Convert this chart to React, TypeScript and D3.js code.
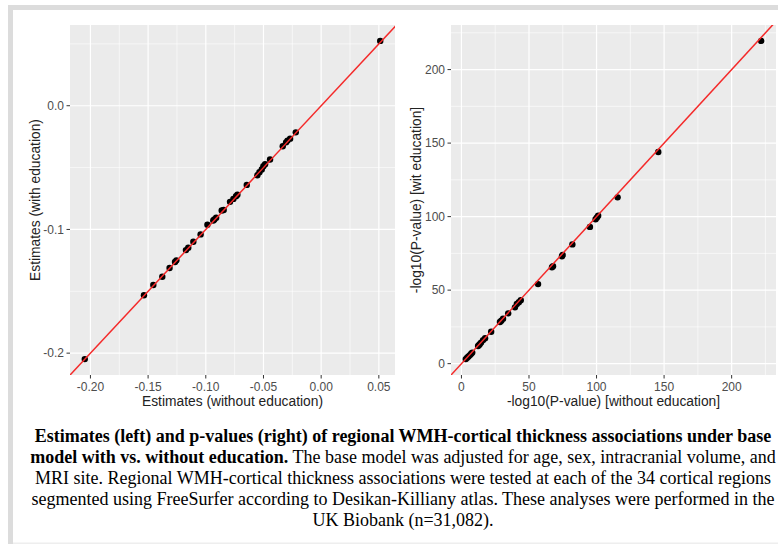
import React from "react";
import * as d3 from "d3";

// Left panel: regional estimates, [without education, with education]
const estimates: [number, number][] = [
  [-0.2049, -0.2048], [-0.1536, -0.1532], [-0.1455, -0.1449], [-0.1377, -0.1382],
  [-0.1314, -0.1312], [-0.1267, -0.1263], [-0.1255, -0.125], [-0.1172, -0.1167],
  [-0.1152, -0.1148], [-0.1108, -0.11], [-0.1045, -0.104], [-0.0986, -0.0962],
  [-0.0935, -0.0928], [-0.0926, -0.0919], [-0.091, -0.0905], [-0.0862, -0.0847],
  [-0.0845, -0.0843], [-0.079, -0.0777], [-0.0761, -0.0753], [-0.0738, -0.0731],
  [-0.0726, -0.072], [-0.0645, -0.064], [-0.0553, -0.0562], [-0.0535, -0.0538],
  [-0.0515, -0.0516], [-0.0501, -0.0489], [-0.0486, -0.0473], [-0.0443, -0.0435],
  [-0.0333, -0.0328], [-0.0304, -0.0296], [-0.0292, -0.0282], [-0.0269, -0.0266],
  [-0.022, -0.0215], [0.0512, 0.0524],
];

// Right panel: -log10(P), [without education, with education]
const logP: [number, number][] = [
  [3.2, 3.1], [4.2, 4.0], [5.2, 4.9], [6.3, 5.8], [7.2, 6.7], [8.0, 7.5],
  [12.3, 12.0], [13.0, 12.6], [13.5, 13.2], [14.5, 14.3], [16.0, 16.0], [17.5, 17.3],
  [22.0, 21.7], [28.5, 28.3], [29.5, 29.2], [30.8, 30.6], [34.6, 34.2], [39.6, 38.3],
  [41.0, 40.6], [42.5, 41.8], [43.9, 43.2], [56.7, 54.1], [67.0, 65.6], [67.8, 66.2],
  [74.4, 73.0], [74.9, 73.9], [82.1, 81.1], [95.1, 93.0], [99.3, 98.2], [100.3, 99.4],
  [101.2, 100.6], [115.6, 113.1], [145.7, 143.9], [221.9, 219.5],
];

const leftXTicks = [-0.2, -0.15, -0.1, -0.05, 0, 0.05];
const leftYTicks = [-0.2, -0.1, 0];
const rightXTicks = [0, 50, 100, 150, 200];
const rightYTicks = [0, 50, 100, 150, 200];

const captionLines = [
  { bold: "Estimates (left) and p-values (right) of regional WMH-cortical thickness associations under base", rest: "" },
  { bold: "model with vs. without education.", rest: " The base model was adjusted for age, sex, intracranial volume, and" },
  { bold: "", rest: "MRI site. Regional WMH-cortical thickness associations were tested at each of the 34 cortical regions" },
  { bold: "", rest: "segmented using FreeSurfer according to Desikan-Killiany atlas. These analyses were performed in the" },
  { bold: "", rest: "UK Biobank (n=31,082)." },
];

const FONT = "'Liberation Sans', Arial, sans-serif";

// ggplot-style 5% expansion of the data range
const expanded = (vals: number[]): [number, number] => {
  const [lo, hi] = d3.extent(vals) as [number, number];
  const pad = (hi - lo) * 0.05;
  return [lo - pad, hi + pad];
};

const midpoints = (ticks: number[], domain: [number, number]) => {
  const step = ticks[1] - ticks[0];
  const out: number[] = [];
  for (let v = ticks[0] - step / 2; v <= domain[1]; v += step) {
    if (v >= domain[0]) out.push(v);
  }
  return out;
};

type PanelProps = {
  id: string;
  data: [number, number][];
  left: number;
  right: number;
  xTicks: number[];
  yTicks: number[];
  xFmt: (d: number) => string;
  yFmt: (d: number) => string;
  xTitle: string;
  yTitle: string;
  yTitleX: number;
};

const Panel: React.FC<PanelProps> = ({ id, data, left, right, xTicks, yTicks, xFmt, yFmt, xTitle, yTitle, yTitleX }) => {
  const top = 25;
  const bottom = 375;
  const xDom = expanded(data.map((d) => d[0]));
  const yDom = expanded(data.map((d) => d[1]));
  const x = d3.scaleLinear().domain(xDom).range([left, right]);
  const y = d3.scaleLinear().domain(yDom).range([bottom, top]);
  const lo = Math.min(xDom[0], yDom[0]);
  const hi = Math.max(xDom[1], yDom[1]);
  const line = d3.line<number>().x((v) => x(v)).y((v) => y(v));

  return (
    <g>
      <defs>
        <clipPath id={id}>
          <rect x={left} y={top} width={right - left} height={bottom - top} />
        </clipPath>
      </defs>
      <rect x={left} y={top} width={right - left} height={bottom - top} fill="#ebebeb" />
      {midpoints(xTicks, xDom).map((v) => (
        <line key={"mx" + v} x1={x(v)} x2={x(v)} y1={top} y2={bottom} stroke="#fff" strokeWidth={0.6} />
      ))}
      {midpoints(yTicks, yDom).map((v) => (
        <line key={"my" + v} x1={left} x2={right} y1={y(v)} y2={y(v)} stroke="#fff" strokeWidth={0.6} />
      ))}
      {xTicks.map((v) => (
        <line key={"gx" + v} x1={x(v)} x2={x(v)} y1={top} y2={bottom} stroke="#fff" strokeWidth={1.2} />
      ))}
      {yTicks.map((v) => (
        <line key={"gy" + v} x1={left} x2={right} y1={y(v)} y2={y(v)} stroke="#fff" strokeWidth={1.2} />
      ))}
      <g clipPath={`url(#${id})`}>
        {data.map((d, i) => (
          <circle key={i} cx={x(d[0])} cy={y(d[1])} r={3.2} fill="#000" />
        ))}
        <path d={line([lo, hi]) || ""} stroke="#f42a2a" strokeWidth={1.5} fill="none" />
      </g>
      {xTicks.map((v) => (
        <g key={"tx" + v}>
          <line x1={x(v)} x2={x(v)} y1={bottom} y2={bottom + 3.5} stroke="#333" strokeWidth={1} />
          <text x={x(v)} y={bottom + 16} textAnchor="middle" fontFamily={FONT} fontSize={12} fill="#4d4d4d">
            {xFmt(v)}
          </text>
        </g>
      ))}
      {yTicks.map((v) => (
        <g key={"ty" + v}>
          <line x1={left - 3.5} x2={left} y1={y(v)} y2={y(v)} stroke="#333" strokeWidth={1} />
          <text x={left - 6} y={y(v) + 4.2} textAnchor="end" fontFamily={FONT} fontSize={12} fill="#4d4d4d">
            {yFmt(v)}
          </text>
        </g>
      ))}
      <text x={(left + right) / 2} y={406} textAnchor="middle" fontFamily={FONT} fontSize={13.8} fill="#222">
        {xTitle}
      </text>
      <text
        transform={`translate(${yTitleX},${(top + bottom) / 2}) rotate(-90)`}
        textAnchor="middle"
        fontFamily={FONT}
        fontSize={13.8}
        fill="#222"
      >
        {yTitle}
      </text>
    </g>
  );
};

const App: React.FC = () => {
  const fmt2 = d3.format(".2f");
  const fmt1 = d3.format(".1f");
  const fmtInt = d3.format("d");
  const minus = (s: string) => s.replace("−", "-");

  return (
    <svg
      width={778}
      height={544}
      style={{ position: "absolute", left: 0, top: 0, background: "#fff" }}
    >
      <rect x={8} y={5} width={770} height={5} fill="#dcdcdc" />
      <rect x={8} y={5} width={5} height={539} fill="#dcdcdc" />
      <rect x={13} y={542.5} width={765} height={1.5} fill="#eeeeee" />

      <Panel
        id="clipL"
        data={estimates}
        left={70}
        right={395}
        xTicks={leftXTicks}
        yTicks={leftYTicks}
        xFmt={(d) => minus(fmt2(d))}
        yFmt={(d) => minus(fmt1(d))}
        xTitle="Estimates (without education)"
        yTitle="Estimates (with education)"
        yTitleX={40}
      />
      <Panel
        id="clipR"
        data={logP}
        left={451}
        right={776}
        xTicks={rightXTicks}
        yTicks={rightYTicks}
        xFmt={(d) => fmtInt(d)}
        yFmt={(d) => fmtInt(d)}
        xTitle="-log10(P-value) [without education]"
        yTitle="-log10(P-value) [wit education]"
        yTitleX={421}
      />

      {captionLines.map((l, i) => (
        <text
          key={i}
          x={403}
          y={442 + i * 21}
          textAnchor="middle"
          fontFamily="'Liberation Serif', 'Times New Roman', serif"
          fontSize={18}
          fill="#000"
        >
          {l.bold && <tspan fontWeight="bold">{l.bold}</tspan>}
          {l.rest && <tspan>{l.rest}</tspan>}
        </text>
      ))}
    </svg>
  );
};

export default App;
